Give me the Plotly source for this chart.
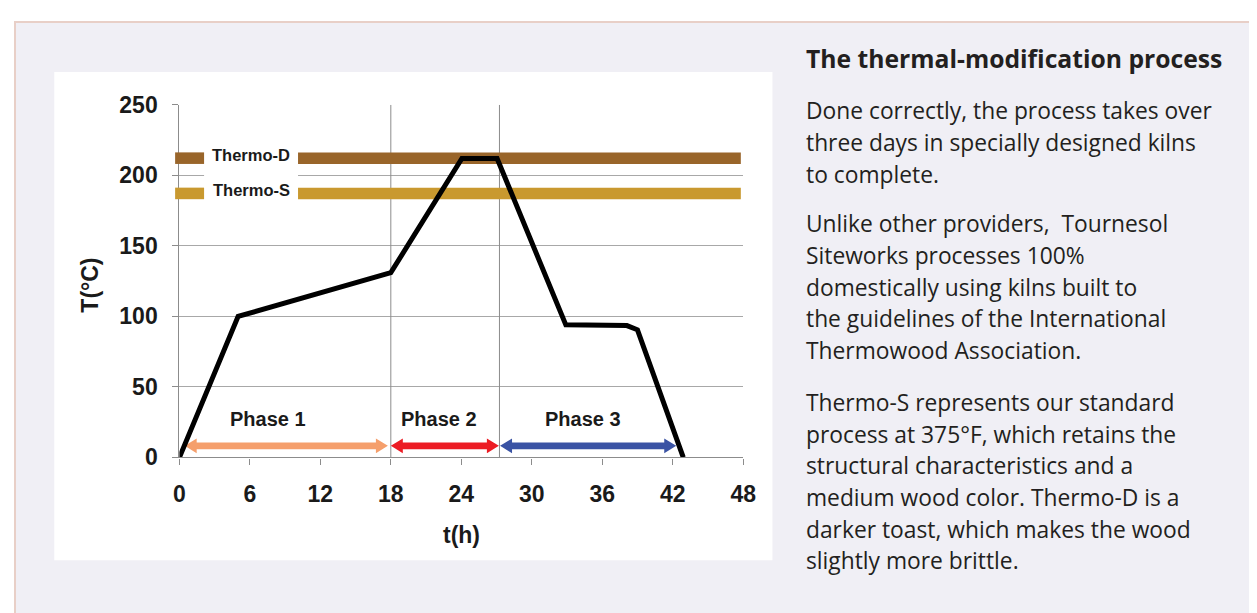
import plotly.graph_objects as go

# ---------------- data ----------------
hours = [0, 5, 18, 24.05, 27.05, 32.9, 38.1, 39.0, 42.9]
temps = [0, 100, 131, 212, 212, 94, 93.5, 90.5, 0]

x_ticks = [0, 6, 12, 18, 24, 30, 36, 42, 48]
y_ticks = [0, 50, 100, 150, 200, 250]

phase_names = ["Phase 1", "Phase 2", "Phase 3"]
phase_start = [0.45, 18.0, 27.3]
phase_end = [17.75, 27.2, 42.3]
phase_label_x = [7.5, 22.1, 34.4]
phase_label_y = 27
phase_arrow_y = 8.2
phase_colors = ["#f59f6c", "#ec1c24", "#3a53a4"]
phase_boundaries = [18, 27.25]

treat_names = ["Thermo-D", "Thermo-S"]
treat_temps = [212.2, 187.2]
treat_colors = ["#99652a", "#c9992f"]
band_start = 10.1
band_end = 47.8
band_half = 4.1

title = "The thermal-modification process"
paragraphs = [
    ["Done correctly, the process takes over",
     "three days in specially designed kilns",
     "to complete."],
    ["Unlike other providers,  Tournesol",
     "Siteworks processes 100%",
     "domestically using kilns built to",
     "the guidelines of the International",
     "Thermowood Association."],
    ["Thermo-S represents our standard",
     "process at 375°F, which retains the",
     "structural characteristics and a",
     "medium wood color. Thermo-D is a",
     "darker toast, which makes the wood",
     "slightly more brittle."],
]

# ---------------- layout helpers ----------------
# mapping of target screen pixels to figure pixels (calibrated from renders)
SX0, SXS = 13.7, 0.986
SY0, SYS = 19.5, 0.965
W, H = 1257, 613
def px(x):
    return ((x - SX0) / SXS) / W
def py(y):
    return 1 - ((y - SY0) / SYS) / H

X0, X1 = 179.3, 743.7   # screen pixel of x=0 and x=48
Y0, Y1 = 459.3, 104.0   # screen pixel of y=0 and y=250
xscale = (X1 - X0) / (x_ticks[-1] - x_ticks[0])
yscale = (Y0 - Y1) / (y_ticks[-1] - y_ticks[0])

AX_FONT = "Liberation Sans, Arial, sans-serif"
TXT_FONT = "'Open Sans', Lato, sans-serif"
TXT_COLOR = "#231f20"

fig = go.Figure()

# phase arrows (double-headed polygons)
hl = 12 / xscale
hh = 7.5 / yscale
bh = 3.3 / yscale
for name, a, b, col in zip(phase_names, phase_start, phase_end, phase_colors):
    yc = phase_arrow_y
    xs = [a, a + hl, a + hl, b - hl, b - hl, b, b - hl, b - hl, a + hl, a + hl, a]
    ys = [yc, yc + hh, yc + bh, yc + bh, yc + hh, yc, yc - hh, yc - bh, yc - bh, yc - hh, yc]
    fig.add_trace(go.Scatter(x=xs, y=ys, mode="lines", fill="toself",
                             fillcolor=col, line=dict(width=0, color=col),
                             hoverinfo="skip", showlegend=False))

# temperature profile
fig.add_trace(go.Scatter(x=hours, y=temps, mode="lines",
                         line=dict(color="#000000", width=5),
                         showlegend=False))

shapes = []
# panel background
shapes.append(dict(type="rect", xref="paper", yref="paper",
                   x0=1 / W, x1=1.05, y0=1 - 1 / H, y1=-0.05,
                   fillcolor="#f0eff5", line=dict(color="#e8cfc7", width=2),
                   layer="below"))
# white chart box
shapes.append(dict(type="rect", xref="paper", yref="paper",
                   x0=px(54), x1=px(773), y0=py(71), y1=py(563),
                   fillcolor="#ffffff", line=dict(width=0), layer="below"))
# vertical phase boundary lines
for b in phase_boundaries:
    shapes.append(dict(type="line", xref="x", yref="y", x0=b, x1=b,
                       y0=y_ticks[0], y1=y_ticks[-1],
                       line=dict(color="#8c8c8c", width=1), layer="between"))
# white gap behind legend labels
shapes.append(dict(type="rect", xref="x", yref="y",
                   x0=2.1, x1=band_start,
                   y0=treat_temps[1] - 9, y1=treat_temps[0] + 9,
                   fillcolor="#ffffff", line=dict(width=0), layer="between"))
# treatment bands
for t, c in zip(treat_temps, treat_colors):
    shapes.append(dict(type="rect", xref="x", yref="y",
                       x0=band_start, x1=band_end,
                       y0=t - band_half, y1=t + band_half,
                       fillcolor=c, line=dict(width=0), layer="between"))
    # legend swatch
    shapes.append(dict(type="rect", xref="paper", yref="paper",
                       x0=px(175), x1=px(X0 + 2.1 * xscale),
                       y0=py(Y0 - (t - band_half) * yscale),
                       y1=py(Y0 - (t + band_half) * yscale),
                       fillcolor=c, line=dict(width=0), layer="above"))

annotations = []
# treatment labels
for n, t in zip(treat_names, treat_temps):
    annotations.append(dict(x=(2.1 + band_start) / 2, y=t + 2.5, xref="x", yref="y",
                            xanchor="center", yanchor="middle",
                            text="<b>%s</b>" % n, showarrow=False,
                            font=dict(family=AX_FONT, size=16.5, color="#1a1a1a")))
# phase labels
for n, xl in zip(phase_names, phase_label_x):
    annotations.append(dict(x=xl, y=phase_label_y, xref="x", yref="y",
                            xanchor="center", yanchor="middle",
                            text="<b>%s</b>" % n, showarrow=False,
                            font=dict(family=AX_FONT, size=20, color="#1a1a1a")))
# axis titles
annotations.append(dict(x=px(462), y=py(537), xref="paper", yref="paper",
                        xanchor="center", yanchor="middle",
                        text="<b>t(h)</b>", showarrow=False,
                        font=dict(family=AX_FONT, size=23, color="#1a1a1a")))
annotations.append(dict(x=px(90), y=py(286), xref="paper", yref="paper",
                        xanchor="center", yanchor="middle",
                        text="<b>T(°C)</b>", showarrow=False, textangle=-90,
                        font=dict(family=AX_FONT, size=23, color="#1a1a1a")))

# right-hand text
annotations.append(dict(x=px(805), y=py(57), xref="paper", yref="paper",
                        xanchor="left", yanchor="middle",
                        text="<b>%s</b>" % title, showarrow=False,
                        font=dict(family=TXT_FONT, size=24.7, color=TXT_COLOR)))
para_tops = [110, 224, 404]
for top, lines in zip(para_tops, paragraphs):
    for i, ln in enumerate(lines):
        annotations.append(dict(x=px(805), y=py(top + i * 31.9), xref="paper", yref="paper",
                                xanchor="left", yanchor="middle",
                                text=ln, showarrow=False,
                                font=dict(family=TXT_FONT, size=22.8, color=TXT_COLOR)))

fig.update_layout(
    width=W, height=H,
    margin=dict(l=0, r=0, t=0, b=0),
    paper_bgcolor="#ffffff",
    plot_bgcolor="rgba(0,0,0,0)",
    shapes=shapes,
    annotations=annotations,
    showlegend=False,
    xaxis=dict(domain=[px(X0), px(X1)], range=[x_ticks[0], x_ticks[-1]],
               tickmode="array", tickvals=x_ticks,
               ticktext=["<b>%d</b>" % v for v in x_ticks],
               showgrid=False, zeroline=False,
               showline=True, linecolor="#8c8c8c", linewidth=1.2,
               ticks="outside", ticklen=6, tickcolor="#8c8c8c",
               ticklabelstandoff=10,
               tickfont=dict(family=AX_FONT, size=23, color="#1a1a1a"),
               fixedrange=True),
    yaxis=dict(domain=[py(Y0), py(Y1)], range=[y_ticks[0], y_ticks[-1]],
               tickmode="array", tickvals=y_ticks,
               ticktext=["<b>%d</b>" % v for v in y_ticks],
               showgrid=True, gridcolor="#a8a8a8", gridwidth=1,
               zeroline=False,
               showline=True, linecolor="#8c8c8c", linewidth=1.2,
               ticks="outside", ticklen=6, tickcolor="#8c8c8c",
               ticklabelstandoff=10,
               tickfont=dict(family=AX_FONT, size=23, color="#1a1a1a"),
               fixedrange=True),
)

fig.write_html("out.html")
